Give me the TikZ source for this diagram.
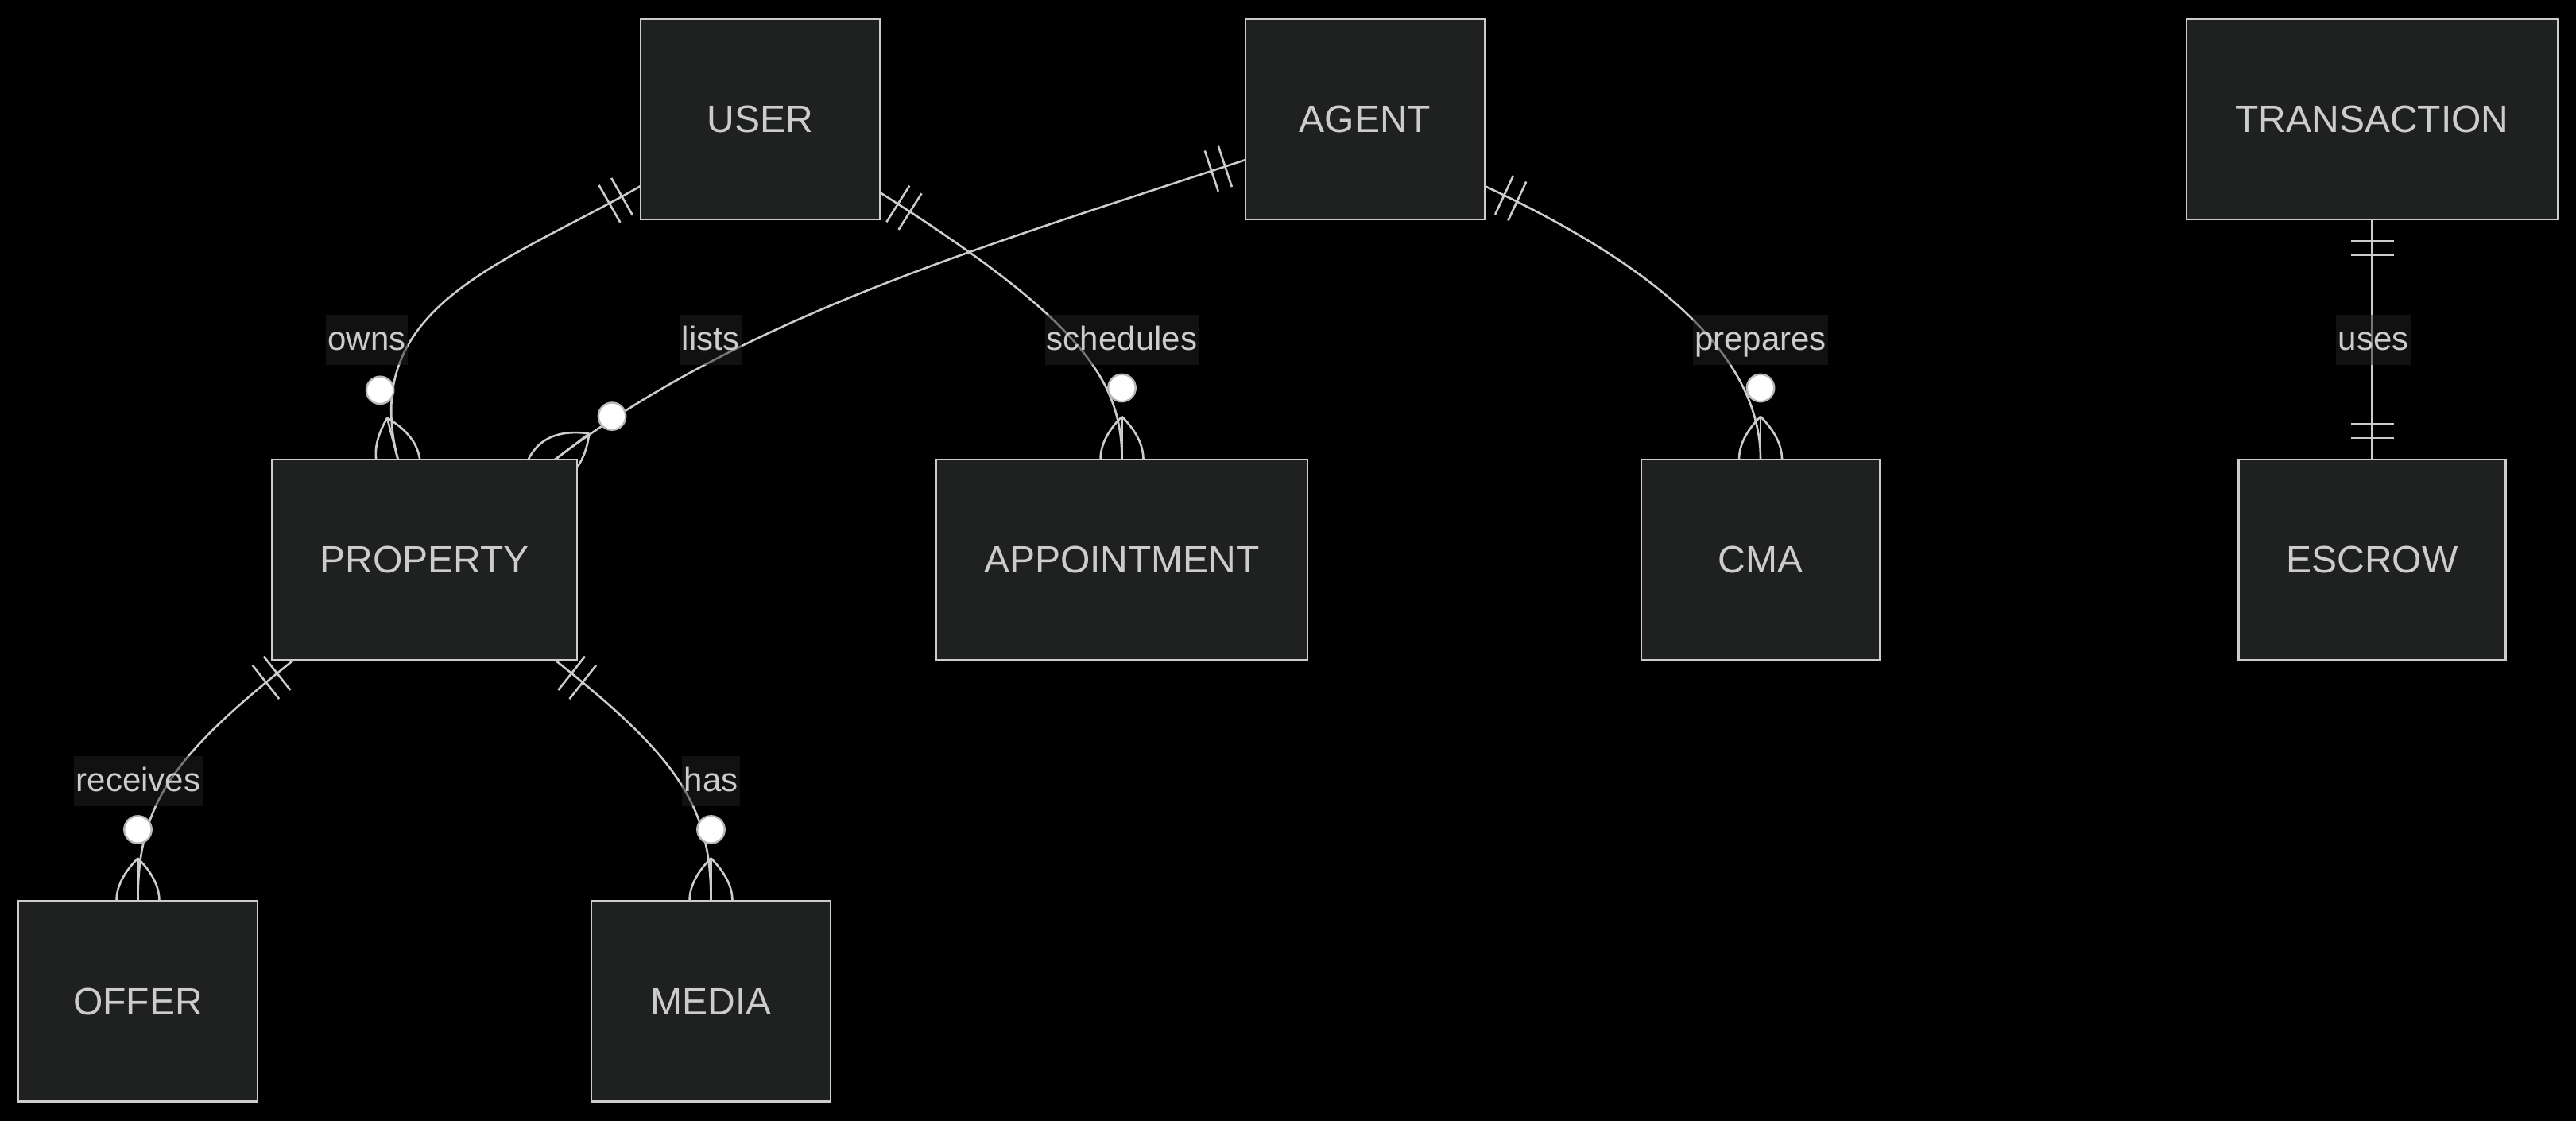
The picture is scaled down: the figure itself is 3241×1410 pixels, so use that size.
\documentclass[tikz,border=0pt]{standalone}
\usepackage{fontspec}
\setmainfont{Liberation Sans}
\usetikzlibrary{calc}
\definecolor{linec}{HTML}{CCCCCC}
\definecolor{boxfill}{HTML}{1F2020}
\definecolor{txtc}{HTML}{CCCCCC}
\definecolor{lblbg}{HTML}{222222}
\definecolor{circst}{HTML}{B8B8B8}
\pgfdeclarelayer{back}
\pgfdeclarelayer{edges}
\pgfsetlayers{back,edges,main}
\newcommand\erOne[2]{%
  \draw[edge] ($(#1)!6.75pt!(#2)!6.75pt!90:(#2)$) -- ($(#1)!6.75pt!(#2)!6.75pt!-90:(#2)$);
  \draw[edge] ($(#1)!11.25pt!(#2)!6.75pt!90:(#2)$) -- ($(#1)!11.25pt!(#2)!6.75pt!-90:(#2)$);
}
\newcommand\erMany[2]{%
  \coordinate (mF) at ($(#1)!13.5pt!(#2)$);
  \coordinate (mT) at ($(#1)!-13.5pt!(#2)$);
  \coordinate (mA) at ($(#1)!4.5pt!(#2)$);
  \coordinate (mB) at ($(#1)!-4.5pt!(#2)$);
  \draw[edge] (mF) .. controls ($(mA)!9pt!90:(#1)$) and ($(mB)!9pt!-90:(#1)$) .. (mT)
     .. controls ($(mB)!9pt!90:(#1)$) and ($(mA)!9pt!-90:(#1)$) .. (mF);
  \draw[edge] (mF) -- (mT);
  \draw[circ] ($(#1)!22.5pt!(#2)$) circle[radius=4.3pt];
}
\begin{document}
\begin{tikzpicture}[x=0.25pt,y=-0.25pt,
  ent/.style={draw=linec, fill=boxfill, line width=0.6pt, minimum height=63pt,
    inner sep=0pt, outer sep=0pt, text=txtc, font=\fontsize{12}{14}\selectfont},
  edge/.style={draw=linec, line width=0.65pt},
  circ/.style={draw=circst, fill=white, line width=0.6pt},
  lbl/.style={fill=lblbg, fill opacity=0.5, text opacity=1, text=txtc,
    font=\fontsize{10.5}{12}\selectfont, inner xsep=0.6pt, inner ysep=0pt,
    text height=11.25pt, text depth=4.5pt}]
\begin{pgfonlayer}{back}
\fill[black] (0,0) rectangle (3241,1410);
\end{pgfonlayer}
\useasboundingbox (0,0) rectangle (3241,1410);

% entities
\node[ent, minimum width=75.25pt] (user) at (956.5,150) {USER};
\node[ent, minimum width=75.25pt] (agent) at (1717.5,150) {AGENT};
\node[ent, minimum width=116.75pt] (transaction) at (2984.5,150) {TRANSACTION};
\node[ent, minimum width=96pt] (property) at (534,704) {PROPERTY};
\node[ent, minimum width=116.75pt] (appointment) at (1411.5,704) {APPOINTMENT};
\node[ent, minimum width=75pt] (cma) at (2215,704) {CMA};
\node[ent, minimum width=84pt] (escrow) at (2984.5,704) {ESCROW};
\node[ent, minimum width=75.25pt] (offer) at (173.5,1259.5) {OFFER};
\node[ent, minimum width=75.25pt] (media) at (894.5,1259.5) {MEDIA};

% connector end points and control points
\coordinate (s1) at ($(user.west)+(0,84)$);
\coordinate (e1) at ($(property.north west)+(158.7,0)$);
\coordinate (c1a) at ($(s1)+(-173.6,99.2)$);
\coordinate (c1b) at ($(e1)+(-50.2,-193.6)$);

\coordinate (s2) at ($(user.east)+(0,92)$);
\coordinate (e2) at (appointment.north);
\coordinate (c2a) at ($(s2)+(253.5,160.8)$);
\coordinate (c2b) at ($(e2)+(0,-100)$);

\coordinate (s3) at ($(agent.west)+(0,51)$);
\coordinate (e3) at ($(property.north east)+(-27.7,0)$);
\coordinate (c3a) at ($(s3)+(-332.2,109.9)$);
\coordinate (c3b) at ($(e3)+(239.1,-181.2)$);

\coordinate (s4) at ($(agent.east)+(0,84)$);
\coordinate (e4) at (cma.north);
\coordinate (c4a) at ($(s4)+(271.8,126.9)$);
\coordinate (c4b) at ($(e4)+(0,-100)$);

\coordinate (s5) at ($(property.south west)+(27.7,0)$);
\coordinate (e5) at (offer.north);
\coordinate (c5a) at ($(s5)+(-156.6,124.2)$);
\coordinate (c5b) at ($(e5)+(0,-120)$);

\coordinate (s6) at ($(property.south east)+(-28,0)$);
\coordinate (e6) at (media.north);
\coordinate (c6a) at ($(s6)+(156.6,124.2)$);
\coordinate (c6b) at ($(e6)+(0,-120)$);

\coordinate (s7) at (transaction.south);
\coordinate (e7) at (escrow.north);

\begin{pgfonlayer}{edges}
\draw[edge] (s1) .. controls (c1a) and (c1b) .. (e1);
\draw[edge] (s2) .. controls (c2a) and (c2b) .. (e2);
\draw[edge] (s3) .. controls (c3a) and (c3b) .. (e3);
\draw[edge] (s4) .. controls (c4a) and (c4b) .. (e4);
\draw[edge] (s5) .. controls (c5a) and (c5b) .. (e5);
\draw[edge] (s6) .. controls (c6a) and (c6b) .. (e6);
\draw[edge] (s7) -- (e7);
\erOne{s1}{c1a} \erMany{e1}{c1b}
\erOne{s2}{c2a} \erMany{e2}{c2b}
\erOne{s3}{c3a} \erMany{e3}{c3b}
\erOne{s4}{c4a} \erMany{e4}{c4b}
\erOne{s5}{c5a} \erMany{e5}{c5b}
\erOne{s6}{c6a} \erMany{e6}{c6b}
\erOne{s7}{e7} \erOne{e7}{s7}
\end{pgfonlayer}

% relationship labels
\node[lbl] (lowns) at (461.5,427.5) {owns};
\node[lbl] (llists) at (894,427.5) {lists};
\node[lbl] (lsched) at (1411.5,427.5) {schedules};
\node[lbl] (lprep) at (2215,427.5) {prepares};
\node[lbl] (luses) at (2986,427.5) {uses};
\node[lbl] (lrecv) at (174,982) {receives};
\node[lbl] (lhas) at (894.5,982) {has};
\end{tikzpicture}
\end{document}
